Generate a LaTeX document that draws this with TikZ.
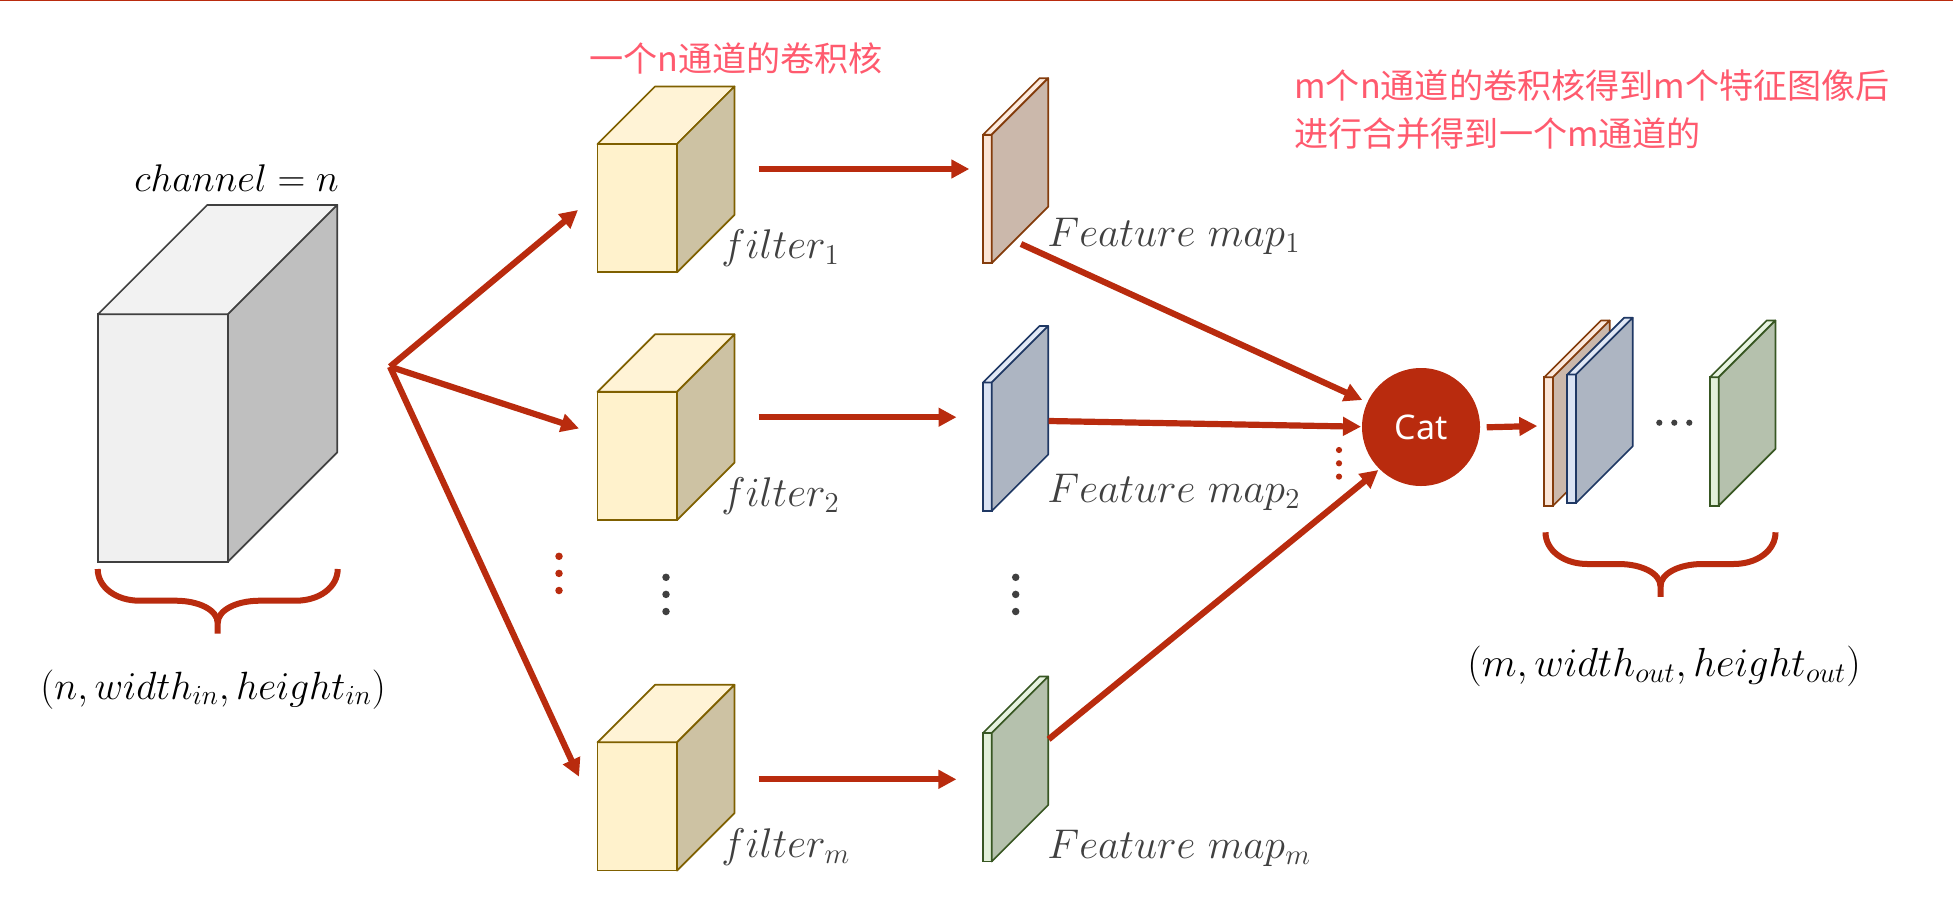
\documentclass[tikz,border=0pt]{standalone}
\usepackage{fix-cm}
\usepackage{amsmath}
\usepackage{fontspec}
\newfontfamily\cjk{Noto Sans CJK SC}
\newfontfamily\catfont{Noto Sans}
\usetikzlibrary{arrows.meta,positioning}

\definecolor{catRed}{HTML}{B92B0E}
\definecolor{noteRed}{HTML}{FF5A6E}
\definecolor{darkText}{HTML}{404040}
\definecolor{filterLine}{HTML}{7F6000}
\definecolor{filterFace}{HTML}{FFF2CC}
\definecolor{filterTop}{HTML}{FFF3D6}
\definecolor{filterSide}{HTML}{CDC2A3}
\definecolor{orangeFace}{HTML}{FBE5D6}
\definecolor{orangeTop}{HTML}{FCEADE}
\definecolor{orangeSide}{HTML}{CBB8AB}
\definecolor{orangeLine}{HTML}{843C0C}
\definecolor{blueFace}{HTML}{DAE3F3}
\definecolor{blueTop}{HTML}{E1E8F5}
\definecolor{blueSide}{HTML}{ADB5C2}
\definecolor{blueLine}{HTML}{1F3864}
\definecolor{greenFace}{HTML}{E2F0D9}
\definecolor{greenTop}{HTML}{E7F3E0}
\definecolor{greenSide}{HTML}{B5C1AD}
\definecolor{greenLine}{HTML}{385723}

\newcommand{\boxFaces}[5]{% front node, depth, top, side, line
	\filldraw[fill=#3,draw=#5,line width=0.85pt,line join=round] (#1.north west) -- ([shift={(#2,-#2)}]#1.north west) -- ([shift={(#2,-#2)}]#1.north east) -- (#1.north east) -- cycle;
	\filldraw[fill=#4,draw=#5,line width=0.85pt,line join=round] (#1.north east) -- ([shift={(#2,-#2)}]#1.north east) -- ([shift={(#2,-#2)}]#1.south east) -- (#1.south east) -- cycle;
}

\tikzset{
	frontFace/.style={
		line width=0.85pt,
		inner sep=0pt,
		outer sep=0pt,
		anchor=north west
	},
	inputFront/.style={
		frontFace,
		fill=black!6,
		draw=darkText,
		minimum width=65pt,
		minimum height=123.7pt
	},
	filterFront/.style={
		frontFace,
		fill=filterFace,
		draw=filterLine,
		minimum width=39.75pt,
		minimum height=64.15pt
	},
	mapFront/.style={
		frontFace,
		minimum width=4.35pt,
		minimum height=64.25pt
	},
	orangeFront/.style={mapFront,fill=orangeFace,draw=orangeLine},
	blueFront/.style={mapFront,fill=blueFace,draw=blueLine},
	greenFront/.style={mapFront,fill=greenFace,draw=greenLine},
	redArrow/.style={
		-{Triangle[length=9pt,width=9pt]},
		line width=3.1pt,
		draw=catRed
	},
	redDot/.style={circle,fill=catRed,inner sep=0pt,outer sep=0pt,minimum size=3.75pt},
	smallRedDot/.style={circle,fill=catRed,inner sep=0pt,outer sep=0pt,minimum size=3.1pt},
	greyDot/.style={circle,fill=darkText,inner sep=0pt,outer sep=0pt,minimum size=3.75pt},
	smallGreyDot/.style={circle,fill=darkText,inner sep=0pt,outer sep=0pt,minimum size=3.1pt},
	mathLabel/.style={anchor=base west,inner sep=0pt,font=\fontsize{#1}{24pt}\selectfont},
	mathLabel/.default=20.74pt,
	noteLabel/.style={anchor=west,inner sep=0pt,text=noteRed,align=left,font=\cjk\fontsize{17.05pt}{24pt}\selectfont},
	pics/curly/.style={
		code={
			\draw[draw=catRed,line width=3pt] (-#1,0) .. controls +(0,18) and +(-24,0) .. ++(42,31.7) -- (-42,31.7) .. controls +(23,0) and +(0,-13) .. (0,54) -- (0,64.5);
			\draw[draw=catRed,line width=3pt] (#1,0) .. controls +(0,18) and +(24,0) .. ++(-42,31.7) -- (42,31.7) .. controls +(-23,0) and +(0,-13) .. (0,54);
		}
	}
}

\begin{document}
\begin{tikzpicture}[x=0.5pt,y=-0.5pt]

\useasboundingbox (0,0) rectangle (1953,910);

\coordinate (topL) at (0,0.5);
\coordinate (topR) at (1953,0.5);
\draw[catRed,line width=0.75pt] (topL) -- (topR);

% input block
\node[inputFront](inBox) at (97.9,314.3) {};
\boxFaces{inBox}{109.4}{black!5}{black!25}{darkText}
\node[mathLabel=19.3pt,text=black](channelLabel) at (134,191.7) {$channel=n$};
\pic (inBrace) at (217.7,569) {curly=120};
\node[mathLabel=19.7pt,text=black](inSize) at (40,699) {$(n,width_{in},height_{in})$};

% filters
\node[filterFront](Fone) at (597.5,144) {};
\node[filterFront](Ftwo) [below=59.75pt of Fone] {};
\node[filterFront](Fm) [below=111.1pt of Ftwo] {};
\boxFaces{Fone}{57.5}{filterTop}{filterSide}{filterLine}
\boxFaces{Ftwo}{57.5}{filterTop}{filterSide}{filterLine}
\boxFaces{Fm}{57.5}{filterTop}{filterSide}{filterLine}

\node[mathLabel,text=darkText](filterA) at (721,258.5) {$filter_1$};
\node[mathLabel,text=darkText](filterB) at (721,506.5) {$filter_2$};
\node[mathLabel,text=darkText](filterC) at (721,857) {$filter_m$};

% feature maps
\node[orangeFront](Mone) [right=153pt of Fone, yshift=4.6pt] {};
\node[blueFront](Mtwo) [right=153pt of Ftwo, yshift=4.6pt] {};
\node[greenFront](Mm) [right=153pt of Fm, yshift=4.6pt] {};
\boxFaces{Mone}{56.5}{orangeTop}{orangeSide}{orangeLine}
\boxFaces{Mtwo}{56.5}{blueTop}{blueSide}{blueLine}
\boxFaces{Mm}{56.5}{greenTop}{greenSide}{greenLine}

\node[mathLabel,text=darkText](mapA) at (1047,246.7) {$Feature\ map_1$};
\node[mathLabel,text=darkText](mapB) at (1047,502) {$Feature\ map_2$};
\node[mathLabel,text=darkText](mapC) at (1047,858) {$Feature\ map_m$};

% concat and output
\node[circle,fill=catRed,inner sep=0pt,outer sep=0pt,minimum size=59pt,text=white,font=\catfont\fontsize{17pt}{20pt}\selectfont](Cat) at (1421,427) {Cat};

\node[orangeFront](Oone) at (1544.3,377.2) {};
\boxFaces{Oone}{56.7}{orangeTop}{orangeSide}{orangeLine}
\node[blueFront](Otwo) at (1567.3,374.5) {};
\boxFaces{Otwo}{56.7}{blueTop}{blueSide}{blueLine}
\node[greenFront](Om) at (1710,377.2) {};
\boxFaces{Om}{56.7}{greenTop}{greenSide}{greenLine}

\pic (outBrace) at (1660.5,532.3) {curly=115};
\node[mathLabel=20.3pt,text=black](outSize) at (1467,676) {$(m,width_{out},height_{out})$};

% arrows
\coordinate (fan) at (390,366.7);
\coordinate (fanA) at (578,210);
\coordinate (fanB) at (579,428.5);
\coordinate (fanC) at (579,776.7);
\draw[redArrow] (fan) -- (fanA);
\draw[redArrow] (fan) -- (fanB);
\draw[redArrow] (fan) -- (fanC);

\coordinate (fltA) at (758.5,169);
\coordinate (fltAend) at (969.3,169);
\coordinate (fltB) at (758.5,417.2);
\coordinate (fltBend) at (956.5,417.2);
\coordinate (fltC) at (758.5,779.3);
\coordinate (fltCend) at (956.4,779.3);
\draw[redArrow] (fltA) -- (fltAend);
\draw[redArrow] (fltB) -- (fltBend);
\draw[redArrow] (fltC) -- (fltCend);

\coordinate (mapAout) at (1021,244);
\coordinate (catA) at (1362.3,400);
\coordinate (mapBout) at (1048.7,421);
\coordinate (catB) at (1361,426.7);
\coordinate (mapCout) at (1048.6,739.3);
\coordinate (catC) at (1378.3,470);
\draw[redArrow] (mapAout) -- (catA);
\draw[redArrow] (mapBout) -- (catB);
\draw[redArrow] (mapCout) -- (catC);

\coordinate (catOut) at (1486.7,427.3);
\coordinate (outIn) at (1537.3,426);
\draw[redArrow] (catOut) -- (outIn);

% dots
\node[redDot](rdA) at (559,556.3) {};
\node[redDot](rdB) [below=4.8pt of rdA] {};
\node[redDot](rdC) [below=4.8pt of rdB] {};

\node[greyDot](gdA) at (666,577.3) {};
\node[greyDot](gdB) [below=4.8pt of gdA] {};
\node[greyDot](gdC) [below=4.8pt of gdB] {};

\node[greyDot](gdD) at (1015.7,577.3) {};
\node[greyDot](gdE) [below=4.8pt of gdD] {};
\node[greyDot](gdF) [below=4.8pt of gdE] {};

\node[smallRedDot](rdD) at (1339,450) {};
\node[smallRedDot](rdE) [below=3.55pt of rdD] {};
\node[smallRedDot](rdF) [below=3.55pt of rdE] {};

\node[smallGreyDot](gdG) at (1659.3,422.7) {};
\node[smallGreyDot](gdH) [right=4.4pt of gdG] {};
\node[smallGreyDot](gdI) [right=4.4pt of gdH] {};

% notes
\node[noteLabel](noteA) at (589,58) {一个n通道的卷积核};
\node[noteLabel](noteB) at (1294,110) {m个n通道的卷积核得到m个特征图像后\\进行合并得到一个m通道的};

\end{tikzpicture}
\end{document}
